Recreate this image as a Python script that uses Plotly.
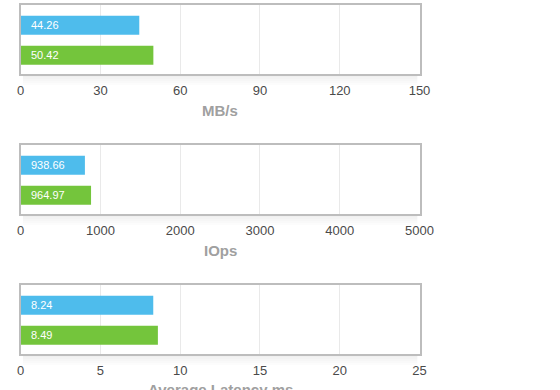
import plotly.graph_objects as go

series_names = ["A", "B"]
colors = ["#4ebcec", "#74c53c"]

titles = ["MB/s", "IOps", "Average Latency ms"]
mbs_values = [44.6, 49.9]
mbs_labels = ["44.26", "50.42"]
iops_values = [805, 882]
iops_labels = ["938.66", "964.97"]
lat_values = [8.31, 8.6]
lat_labels = ["8.24", "8.49"]
x_ranges = [[0, 150], [0, 5000], [0, 25]]
x_dticks = [30, 1000, 5]

panels = [
    (mbs_values, mbs_labels),
    (iops_values, iops_labels),
    (lat_values, lat_labels),
]

H = 390.0
W = 560.0
x_dom = [20.7 / W, 419.5 / W]
panel_px = [(5, 74), (145, 214), (285, 354)]
title_px = [110.5, 250.5, 389.5]
FONT = "Liberation Sans, Arial, sans-serif"

fig = go.Figure()
for i, (vals, labels) in enumerate(panels):
    xa = "x" if i == 0 else f"x{i+1}"
    ya = "y" if i == 0 else f"y{i+1}"
    for j in range(2):
        fig.add_trace(go.Bar(
            x=[vals[j]], y=[j], orientation="h",
            marker=dict(color=colors[j], line=dict(width=0)),
            width=0.633, xaxis=xa, yaxis=ya, showlegend=False,
            hoverinfo="skip",
        ))
        fig.add_annotation(
            x=0, y=j, xref=xa, yref=ya, text=labels[j], showarrow=False,
            xanchor="left", xshift=8, yshift=0,
            font=dict(family=FONT, size=11, color="white"),
        )
    top, bot = panel_px[i]
    ydom = [1 - bot / H, 1 - top / H]
    # soft shadow under the frame
    for k in range(1, 6):
        fig.add_shape(
            type="rect", xref="paper", yref="paper",
            x0=x_dom[0] + 2 / W, x1=x_dom[1] - 2 / W,
            y0=1 - (bot + 1 + 2 * k) / H, y1=1 - (bot + 1) / H,
            fillcolor="rgba(0,0,0,0.012)", line=dict(width=0), layer="below",
        )
    fig.add_annotation(
        x=(x_dom[0] + x_dom[1]) / 2, y=1 - title_px[i] / H, xref="paper", yref="paper",
        text="<b>" + titles[i] + "</b>", showarrow=False, xanchor="center", yanchor="middle",
        font=dict(family=FONT, size=15, color="#a0a0a0"),
    )
    axis_key = "xaxis" if i == 0 else f"xaxis{i+1}"
    yaxis_key = "yaxis" if i == 0 else f"yaxis{i+1}"
    fig.layout[axis_key] = dict(
        domain=x_dom, range=x_ranges[i], dtick=x_dticks[i], tick0=0,
        anchor=ya, showline=True, mirror=True, linecolor="#bdbdbd", linewidth=1.5,
        showgrid=True, gridcolor="#e9e9e9", gridwidth=1, zeroline=False,
        ticks="outside", ticklen=4, tickcolor="rgba(0,0,0,0)",
        tickfont=dict(family=FONT, size=13, color="#4a4a4a"),
        fixedrange=True, automargin=False,
    )
    fig.layout[yaxis_key] = dict(
        domain=ydom, range=[1.627, -0.673], anchor=xa,
        showline=True, mirror=True, linecolor="#bdbdbd", linewidth=1.5,
        showgrid=False, zeroline=False, showticklabels=False, ticks="",
        fixedrange=True, automargin=False,
    )

fig.update_layout(
    width=560, height=390, margin=dict(l=0, r=0, t=0, b=0, autoexpand=False),
    plot_bgcolor="white", paper_bgcolor="white", barmode="overlay",
)

fig.write_html(
    "out.html",
    config={"displayModeBar": False},
    post_script="document.body.style.margin='0';document.body.style.overflow='hidden';",
)
